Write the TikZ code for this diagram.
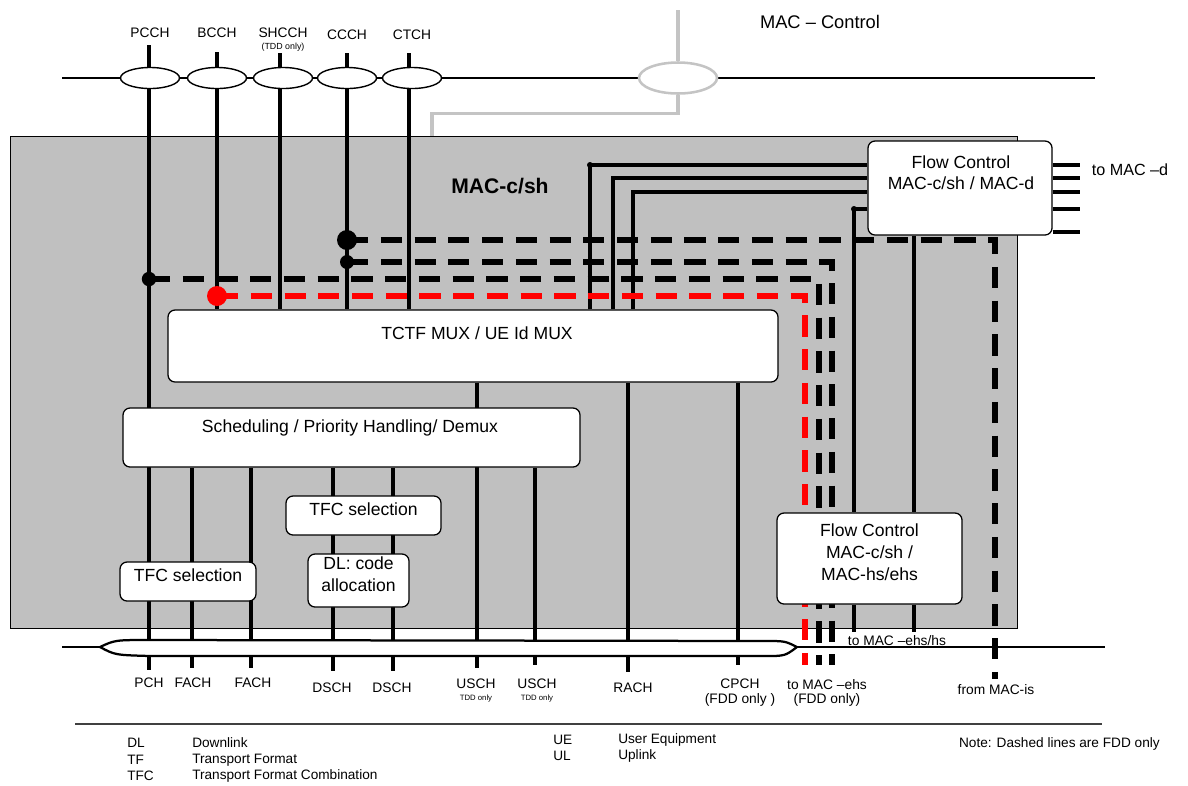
\documentclass[tikz,border=0pt]{standalone}
\usepackage{fontspec}
\setmainfont{Liberation Sans}
\usetikzlibrary{shapes.geometric, positioning, fit, backgrounds}
\definecolor{macgray}{HTML}{C0C0C0}
\definecolor{ctlgray}{HTML}{C4C4C4}
\definecolor{fddred}{HTML}{FF0000}
\definecolor{rulegray}{HTML}{404040}
\pgfdeclarelayer{back}
\pgfdeclarelayer{mid}
\pgfsetlayers{back,mid,main}

\begin{document}
\begin{tikzpicture}[x=0.025cm, y=-0.025cm,
        macbox/.style={draw=black, fill=macgray, line width=0.7pt, inner sep=0pt},
        fnbox/.style={draw=black, fill=white, rounded corners=5pt, line width=0.9pt, inner sep=0pt, font=\fontsize{12.5}{15.5}\selectfont, align=center},
        txt/.style={font=\fontsize{12.5}{15}\selectfont, inner sep=0pt, align=center},
        chan/.style={ellipse, draw=black, fill=white, line width=1pt, minimum width=1.475cm, minimum height=0.525cm, inner sep=0pt},
        lbl/.style={font=\fontsize{9.8}{11}\selectfont, inner sep=0pt, align=center},
        tddnote/.style={font=\fontsize{5.5}{6}\selectfont, inner sep=0pt},
        leg/.style={font=\fontsize{9.7}{11}\selectfont, inner sep=0pt, anchor=west},
        trch/.style={line width=2.7pt},
        bus/.style={line width=2pt},
        fdd/.style={line width=3.8pt, dash pattern=on 15pt off 9pt},
        fddr/.style={fdd, draw=fddred},
        junction/.style={circle, fill=black, inner sep=0pt},
        ctlline/.style={draw=ctlgray, line width=2.2pt}
    ]
        \useasboundingbox (0,0) rectangle (1188,785);

        % MAC-c/sh ENTITY
        \begin{pgfonlayer}{back}
            \node[macbox, fit={(10,136) (1017,628)}] (mac) {};
        \end{pgfonlayer}
        \node[font=\fontsize{15}{18}\selectfont\bfseries, inner sep=0pt] (mac-l) at (500,186) {MAC-c/sh};

        % FUNCTION BLOCKS
        \node[fnbox, fit={(168,310) (778,382)}] (tctf) {};
        \node[txt] (tctf-t) at (477,333) {TCTF MUX / UE Id MUX};
        \node[fnbox, fit={(123,408) (580,467)}] (sched) {};
        \node[txt] (sched-t) at (350,428) {Scheduling / Priority Handling/ Demux};
        \node[fnbox, fit={(286,496) (441,535)}] (tfcs1) {TFC selection};
        \node[fnbox, fit={(120,562) (256,601)}] (tfcs2) {TFC selection};
        \node[fnbox, fit={(308,554) (409,607)}] (dlcode) {DL: code\\allocation};
        \node[fnbox, fit={(868,141) (1052,235)}] (fcd) {};
        \node[txt] (fcd-t) at (961,173) {Flow Control\\MAC-c/sh / MAC-d};
        \node[fnbox, fit={(777,513) (962,604)}] (fchs) {Flow Control\\MAC-c/sh /\\MAC-hs/ehs};

        % LOGICAL CHANNELS
        \foreach \nm/\x/\y/\tx in {pcch/150/33/PCCH, bcch/217/33/BCCH, shcch/283/33/SHCCH, ccch/347/35/CCCH, ctch/412/35/CTCH} {
            \node[chan] (\nm-e) at (\x,78) {};
            \node[lbl] (\nm-l) at (\x,\y) {\tx};
        }
        \node[tddnote, font=\fontsize{6.3}{7}\selectfont] (shcch-n) at (283,47) {(TDD only)};
        \node[chan, draw=ctlgray, line width=1.8pt, minimum width=1.95cm, minimum height=0.775cm] (ctl-e) at (678,78) {};
        \node[font=\fontsize{13}{15}\selectfont, inner sep=0pt] (ctl-l) at (820,22) {MAC – Control};

        % JUNCTIONS
        \node[junction, minimum size=0.5cm] (j-ccch1) at (347,240) {};
        \node[junction, minimum size=0.35cm] (j-ccch2) at (347,262) {};
        \node[junction, minimum size=0.36cm] (j-pcch) at (149,279) {};
        \node[junction, fill=fddred, minimum size=0.5cm] (j-bcch) at (217,296) {};
        \node[junction, minimum size=0.15cm] (fc1) at (590,165) {};
        \node[junction, minimum size=0.15cm] (fc4) at (854,209) {};

        % CONNECTORS
        \begin{pgfonlayer}{mid}
            \coordinate (tb-w) at (62,78);
            \coordinate (tb-e) at (1095,78);
            \draw[bus] (tb-w) -- (tb-e);
            \coordinate (ctl-top) at (678,10);
            \coordinate (ctl-in) at (432,136);
            \draw[ctlline] (ctl-top) -- (ctl-e.north);
            \draw[ctlline] (ctl-e.south) -- ++(0,19) -| (ctl-in);

            \coordinate (pcch) at (149,45);
            \coordinate (bcch) at (217,52);
            \coordinate (shcch) at (280,53);
            \coordinate (ccch) at (347,53);
            \coordinate (ctch) at (409,53);
            \coordinate (pch) at (149,670);
            \draw[trch] (pcch) -- (pch);
            \foreach \c in {bcch, shcch, ccch, ctch}
                \draw[trch] (\c) -- (\c |- tctf.north);

            \coordinate (fach1) at (192,668);
            \coordinate (fach2) at (251,668);
            \coordinate (dsch1) at (333,671);
            \coordinate (dsch2) at (393,671);
            \coordinate (usch1) at (477,668);
            \coordinate (usch2) at (535,665);
            \coordinate (rach) at (628,672);
            \coordinate (cpch) at (738,665);
            \foreach \c in {fach1, fach2, dsch1, dsch2, usch2}
                \draw[trch] (\c |- sched.south) -- (\c);
            \foreach \c in {usch1, rach, cpch}
                \draw[trch] (\c |- tctf.south) -- (\c);

            \coordinate (fc2) at (613,178);
            \coordinate (fc3) at (633,192);
            \coordinate (fc5) at (914,236);
            \foreach \c in {fc1.center, fc2, fc3}
                \draw[trch] (\c |- tctf.north) -- (\c) -- (\c -| fcd.west);
            \draw[trch] (fc4.center -| fcd.west) -- (fc4.center) -- (fc4.center |- fchs.north);
            \draw[trch] (fc5 |- fcd.south) -- (fc5 |- fchs.north);
            \coordinate (hs1) at (854,632);
            \coordinate (hs2) at (914,632);
            \draw[trch] (hs1 |- fchs.south) -- (hs1);
            \draw[trch] (hs2 |- fchs.south) -- (hs2);
            \foreach \y [count=\i] in {165,178,192,209,232} {
                \coordinate (md\i) at (1080,\y);
                \draw[line width=3pt] (md\i -| fcd.east) -- (md\i);
            }

            \coordinate (bb-w) at (62,647);
            \coordinate (bb-e) at (1105,647);
            \draw[bus] (bb-w) -- (bb-e);

            % FDD only paths
            \coordinate (mis) at (995,679);
            \coordinate (ehs0) at (805,665);
            \coordinate (ehs1) at (819,665);
            \coordinate (ehs2) at (832,665);
            \draw[fdd] (j-ccch1.center) -- (j-ccch1 -| mis) -- (mis);
            \draw[fdd] (j-ccch2.center) -- (j-ccch2 -| ehs2) -- (ehs2);
            \draw[fdd] (j-pcch.center) -- (j-pcch -| ehs1) -- (ehs1);
            \draw[fddr] (j-bcch.center) -- (j-bcch -| ehs0) -- (ehs0);
        \end{pgfonlayer}

        % TRANSPORT CHANNELS
        \draw[line width=1.6pt, fill=white] (100,647) .. controls (115,640) .. (150,640) -- (765,641) .. controls (785,641) .. (797,647) .. controls (785,656) .. (765,656) -- (150,656) .. controls (115,655) .. (100,647) -- cycle;
        \foreach \nm/\x/\y/\tx in {pch/149/683/PCH, fach1/193/683/FACH, fach2/253/683/FACH, dsch1/332/688/DSCH, dsch2/392/688/DSCH, usch1/476/684/USCH, usch2/537/684/USCH, rach/633/688/RACH, cpch/740/684/CPCH}
            \node[lbl] (\nm-l) at (\x,\y) {\tx};
        \node[tddnote] (usch1-n) at (476,698) {TDD only};
        \node[tddnote] (usch2-n) at (537,698) {TDD only};
        \node[lbl] (cpch-n) at (740,700) {(FDD only )};
        \node[lbl] (ehs-l) at (827,685) {to MAC –ehs};
        \node[lbl] (ehs-n) at (827,700) {(FDD only)};
        \node[lbl] (mis-l) at (996,690) {from MAC-is};
        \node[lbl] (hs-l) at (897,641) {to MAC –ehs/hs};
        \node[font=\fontsize{11.5}{13}\selectfont, inner sep=0pt] (macd-l) at (1130,170) {to MAC –d};

        % LEGEND
        \coordinate (lg-w) at (75,724);
        \coordinate (lg-e) at (1102,724);
        \draw[line width=1.2pt, draw=rulegray] (lg-w) -- (lg-e);
        \foreach \ab/\tx/\y [count=\i] in {DL/Downlink/743, TF/Transport Format/760, TFC/Transport Format Combination/776} {
            \node[leg] (ab\i) at (127,\y) {\ab};
            \node[leg] (tx\i) at (192,\y) {\tx};
        }
        \foreach \ab/\tx/\y [count=\i] in {UE/User Equipment/740, UL/Uplink/756} {
            \node[leg] (abr\i) at (553,\y) {\ab};
            \node[leg] (txr\i) at (618,\y) {\tx};
        }
        \node[leg, anchor=east] (note) at (1160,744) {Note: Dashed lines are FDD only};
    \end{tikzpicture}
\end{document}
